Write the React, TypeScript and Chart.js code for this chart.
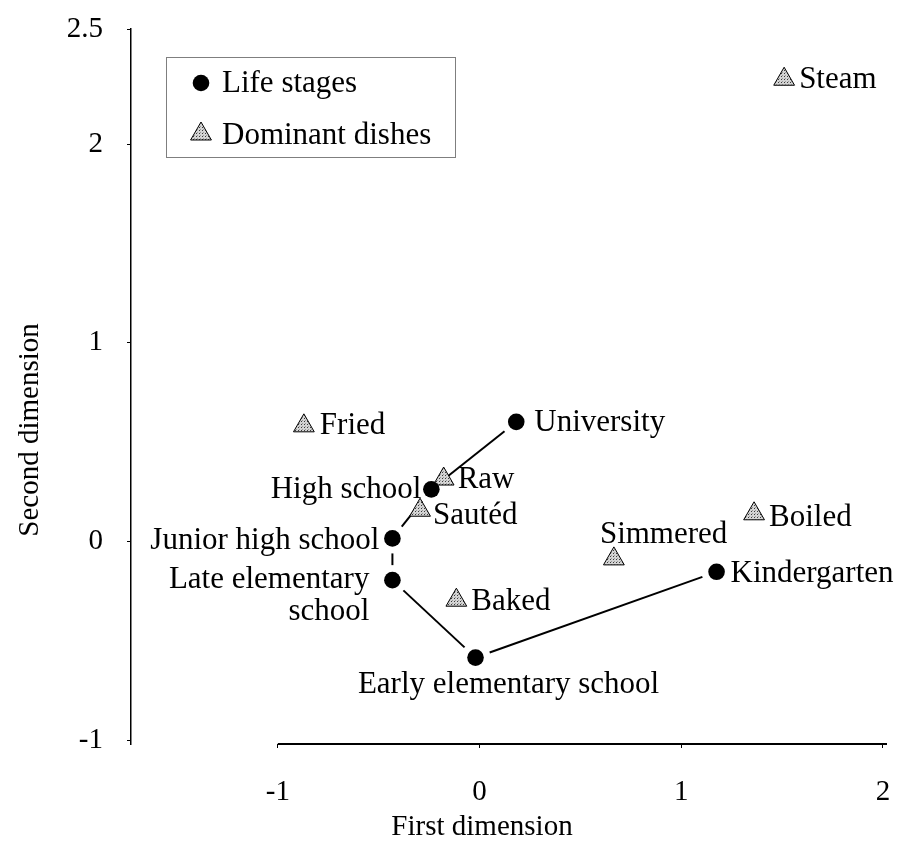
import React, { useEffect, useRef } from "react";
import { Chart, registerables } from "chart.js";

Chart.register(...registerables);

// ---- data ----
const seriesNames = ["Life stages", "Dominant dishes"];

const lifeStages = [
  "University",
  "High school",
  "Junior high school",
  "Late elementary\nschool",
  "Early elementary school",
  "Kindergarten",
];
const lifeX = [0.182, -0.239, -0.432, -0.432, -0.02, 1.175];
const lifeY = [0.602, 0.262, 0.015, -0.195, -0.585, -0.153];

const dishes = ["Steam", "Fried", "Raw", "Sautéd", "Simmered", "Boiled", "Baked"];
const dishX = [1.51, -0.871, -0.178, -0.295, 0.666, 1.361, -0.115];
const dishY = [2.327, 0.582, 0.314, 0.157, -0.088, 0.139, -0.296];

const xTicks = [-1, 0, 1, 2];
const xTickLabels = ["-1", "0", "1", "2"];
const yTicks = [-1, 0, 1, 2, 2.58];
const yTickLabels = ["-1", "0", "1", "2", "2.5"];

const xTitle = "First dimension";
const yTitle = "Second dimension";

// ---- label placement (layout only) ----
type Place = { align: CanvasTextAlign; dx: number; dy: number };
const lifePlace: Place[] = [
  { align: "left", dx: 18, dy: 1 },
  { align: "right", dx: -10, dy: 0 },
  { align: "right", dx: -13, dy: 2 },
  { align: "right", dx: -23, dy: 0 },
  { align: "center", dx: 33, dy: 27 },
  { align: "left", dx: 14, dy: 2 },
];
const dishPlace: Place[] = [
  { align: "left", dx: 15, dy: 1 },
  { align: "left", dx: 16, dy: 0 },
  { align: "left", dx: 14, dy: 1 },
  { align: "left", dx: 13, dy: 6 },
  { align: "left", dx: -14, dy: -24 },
  { align: "left", dx: 15, dy: 4 },
  { align: "left", dx: 15, dy: 2 },
];

const FONT_FAMILY = '"Liberation Serif", "Times New Roman", serif';
const LABEL_SIZE = 31;
const TICK_SIZE = 29;
const TITLE_SIZE = 29;

function makePattern(): CanvasPattern | string {
  const pc = document.createElement("canvas");
  pc.width = 3;
  pc.height = 3;
  const c = pc.getContext("2d");
  if (!c) return "#ccc";
  c.fillStyle = "#d4d4d4";
  c.fillRect(0, 0, 3, 3);
  c.fillStyle = "#3c3c3c";
  c.fillRect(1, 1, 1, 1);
  c.fillStyle = "#9a9a9a";
  c.fillRect(2, 0, 1, 1);
  const p = c.createPattern(pc, "repeat");
  return p || "#ccc";
}

function drawTriangle(ctx: CanvasRenderingContext2D, x: number, y: number, r: number, fill: any) {
  const s = Math.sin((2 * Math.PI) / 3) * r;
  ctx.beginPath();
  ctx.moveTo(x, y - r);
  ctx.lineTo(x + s, y + r / 2);
  ctx.lineTo(x - s, y + r / 2);
  ctx.closePath();
  ctx.fillStyle = fill;
  ctx.fill();
  ctx.strokeStyle = "#000";
  ctx.lineWidth = 1;
  ctx.stroke();
}

export default function App() {
  const ref = useRef<HTMLCanvasElement | null>(null);

  useEffect(() => {
    if (!ref.current) return;
    const pattern = makePattern();
    const labelFont = `${LABEL_SIZE}px ${FONT_FAMILY}`;
    const titleFont = `${TITLE_SIZE}px ${FONT_FAMILY}`;

    const connectPlugin = {
      id: "connect",
      beforeDatasetsDraw(chart: any) {
        const { ctx, scales } = chart;
        const gap = 15;
        ctx.save();
        ctx.strokeStyle = "#000";
        ctx.lineWidth = 2;
        for (let i = 0; i < lifeX.length - 1; i++) {
          const x0 = scales.x.getPixelForValue(lifeX[i]);
          const y0 = scales.y.getPixelForValue(lifeY[i]);
          const x1 = scales.x.getPixelForValue(lifeX[i + 1]);
          const y1 = scales.y.getPixelForValue(lifeY[i + 1]);
          const d = Math.hypot(x1 - x0, y1 - y0);
          if (d <= 2 * gap) continue;
          const ux = (x1 - x0) / d;
          const uy = (y1 - y0) / d;
          ctx.beginPath();
          ctx.moveTo(x0 + ux * gap, y0 + uy * gap);
          ctx.lineTo(x1 - ux * gap, y1 - uy * gap);
          ctx.stroke();
        }
        ctx.restore();
      },
    };

    const decorPlugin = {
      id: "decor",
      afterDraw(chart: any) {
        const { ctx, scales, chartArea } = chart;
        ctx.save();
        // x axis line (from -1 to the right end)
        const xStart = scales.x.getPixelForValue(xTicks[0]);
        ctx.strokeStyle = "#000";
        ctx.lineWidth = 2;
        ctx.beginPath();
        ctx.moveTo(xStart, chartArea.bottom);
        ctx.lineTo(chartArea.right, chartArea.bottom);
        ctx.stroke();

        // point labels
        ctx.font = labelFont;
        ctx.fillStyle = "#000";
        ctx.textBaseline = "middle";
        const drawLabel = (txt: string, px: number, py: number, p: Place) => {
          ctx.textAlign = p.align;
          const lines = txt.split("\n");
          lines.forEach((ln, k) => {
            ctx.fillText(ln, px + p.dx, py + p.dy + k * 32);
          });
        };
        lifeStages.forEach((t, i) => {
          drawLabel(t, scales.x.getPixelForValue(lifeX[i]), scales.y.getPixelForValue(lifeY[i]), lifePlace[i]);
        });
        dishes.forEach((t, i) => {
          drawLabel(t, scales.x.getPixelForValue(dishX[i]), scales.y.getPixelForValue(dishY[i]), dishPlace[i]);
        });

        // legend
        ctx.strokeStyle = "#7f7f7f";
        ctx.lineWidth = 1;
        ctx.strokeRect(166.5, 57.5, 289, 100);
        ctx.fillStyle = "#000";
        ctx.beginPath();
        ctx.arc(201, 83, 8.3, 0, Math.PI * 2);
        ctx.fill();
        drawTriangle(ctx, 201, 134, 12, pattern);
        ctx.fillStyle = "#000";
        ctx.textAlign = "left";
        ctx.fillText(seriesNames[0], 222, 84);
        ctx.fillText(seriesNames[1], 222, 136);

        // axis titles
        ctx.font = titleFont;
        ctx.textAlign = "center";
        ctx.fillText(xTitle, 482, 827);
        ctx.save();
        ctx.translate(30, 430);
        ctx.rotate(-Math.PI / 2);
        ctx.fillText(yTitle, 0, 0);
        ctx.restore();
        ctx.restore();
      },
    };

    const chart = new Chart(ref.current, {
      type: "scatter",
      data: {
        datasets: [
          {
            label: seriesNames[0],
            data: lifeX.map((x, i) => ({ x, y: lifeY[i] })),
            pointStyle: "circle",
            pointRadius: 8.3,
            backgroundColor: "#000",
            borderColor: "#000",
            borderWidth: 0,
            showLine: false,
          },
          {
            label: seriesNames[1],
            data: dishX.map((x, i) => ({ x, y: dishY[i] })),
            pointStyle: "triangle",
            pointRadius: 12,
            backgroundColor: pattern as any,
            borderColor: "#000",
            borderWidth: 1,
            showLine: false,
          },
        ],
      },
      options: {
        responsive: false,
        animation: false,
        layout: { padding: { left: 0, top: 29, right: 12, bottom: 0 } },
        plugins: {
          legend: { display: false },
          tooltip: { enabled: false },
        },
        scales: {
          x: {
            type: "linear",
            min: -1.728,
            max: 2.02,
            afterBuildTicks: (s: any) => {
              s.ticks = xTicks.map((v) => ({ value: v }));
            },
            afterFit: (s: any) => {
              s.height = 118;
              s.paddingLeft = 0;
              s.paddingRight = 0;
            },
            ticks: {
              autoSkip: false,
              maxRotation: 0,
              padding: 27,
              color: "#000",
              font: { family: FONT_FAMILY, size: TICK_SIZE },
              callback: (v: any) => {
                const k = xTicks.indexOf(Number(v));
                return k >= 0 ? xTickLabels[k] : "";
              },
            },
            grid: { drawOnChartArea: false, drawTicks: true, tickLength: 4, color: "#000", lineWidth: 1 },
            border: { display: false },
          },
          y: {
            type: "linear",
            min: -1.0201,
            max: 2.58,
            afterBuildTicks: (s: any) => {
              s.ticks = yTicks.map((v) => ({ value: v }));
            },
            afterFit: (s: any) => {
              s.width = 131;
              s.paddingTop = 0;
              s.paddingBottom = 0;
            },
            ticks: {
              autoSkip: false,
              padding: 24,
              color: "#000",
              font: { family: FONT_FAMILY, size: TICK_SIZE },
              callback: (v: any) => {
                const k = yTicks.indexOf(Number(v));
                return k >= 0 ? yTickLabels[k] : "";
              },
            },
            grid: { drawOnChartArea: false, drawTicks: true, tickLength: 4, color: "#000", lineWidth: 1 },
            border: { display: true, color: "#000", width: 1.5 },
          },
        },
      },
      plugins: [connectPlugin, decorPlugin],
    } as any);

    return () => chart.destroy();
  }, []);

  return (
    <div style={{ position: "absolute", left: 0, top: 0, width: 900, height: 862, background: "#fff" }}>
      <canvas ref={ref} width={900} height={862} style={{ display: "block", width: 900, height: 862 }} />
    </div>
  );
}
